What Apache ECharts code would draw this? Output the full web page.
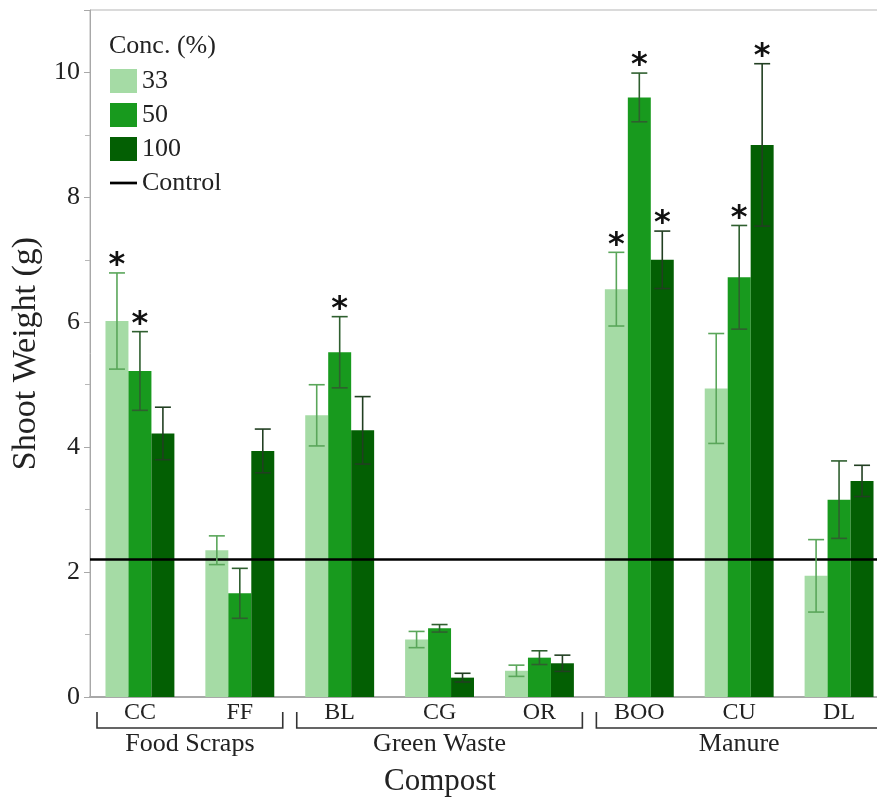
<!DOCTYPE html>
<html>
<head>
<meta charset="utf-8">
<script src="https://cdn.jsdelivr.net/npm/echarts@6/dist/echarts.min.js"></script>
<style>
  html, body { margin: 0; padding: 0; background: #fff; }
  #chart { width: 877px; height: 803px; }
</style>
</head>
<body>
<div id="chart"></div>
<script>
// Compost types on the x axis, grouped by source
const categories = ['CC', 'FF', 'BL', 'CG', 'OR', 'BOO', 'CU', 'DL'];
const groupNames = ['Food Scraps', 'Green Waste', 'Manure'];
const groupSpans = [[0, 1], [2, 4], [5, 7]];

// Concentration levels (%)
const concNames = ['33', '50', '100'];

// Mean shoot weight (g) per concentration
const conc33 = [6.02, 2.35, 4.51, 0.92, 0.42, 6.53, 4.94, 1.94];
const conc50 = [5.22, 1.66, 5.52, 1.10, 0.63, 9.60, 6.72, 3.16];
const conc100 = [4.22, 3.94, 4.27, 0.31, 0.54, 7.00, 8.84, 3.46];

// Error bar half-lengths (g)
const err33 = [0.77, 0.23, 0.49, 0.13, 0.09, 0.59, 0.88, 0.58];
const err50 = [0.63, 0.40, 0.57, 0.06, 0.11, 0.39, 0.83, 0.62];
const err100 = [0.42, 0.35, 0.54, 0.07, 0.13, 0.46, 1.30, 0.25];

// Significance flags (1 = marked with an asterisk)
const sig33 = [1, 0, 0, 0, 0, 1, 0, 0];
const sig50 = [1, 0, 1, 0, 0, 1, 1, 0];
const sig100 = [0, 0, 0, 0, 0, 1, 1, 0];

// Control shoot weight (g)
const controlValue = 2.21;

// Y axis ticks
const yMin = 0, yMax = 11, yInterval = 2;

const barColors = ['#a5dba5', '#189a1e', '#035f03'];
const errColors = ['#5aa65a', '#2f5f2f', '#223f22'];
const FONT = '"Liberation Serif", "Times New Roman", serif';
const CAT_GAP = 0.31;

const means = [conc33, conc50, conc100];
const errs = [err33, err50, err100];
const sigs = [sig33, sig50, sig100];

const chart = echarts.init(document.getElementById('chart'));

function errorSeries(k) {
  return {
    type: 'custom',
    name: concNames[k] + ' err',
    z: 5,
    silent: true,
    data: categories.map((c, i) => [i, means[k][i], errs[k][i], sigs[k][i]]),
    renderItem: function (params, api) {
      const idx = api.value(0);
      const v = api.value(1);
      const e = api.value(2);
      const s = api.value(3);
      const band = api.size([1, 0])[0];
      const barW = band * (1 - CAT_GAP) / 3;
      const cx = api.coord([idx, 0])[0] + (k - 1) * barW;
      const yTop = api.coord([idx, v + e])[1];
      const yBot = api.coord([idx, v - e])[1];
      const cap = 8;
      const style = { stroke: errColors[k], lineWidth: 1.6 };
      const children = [
        { type: 'line', shape: { x1: cx, y1: yTop, x2: cx, y2: yBot }, style },
        { type: 'line', shape: { x1: cx - cap, y1: yTop, x2: cx + cap, y2: yTop }, style },
        { type: 'line', shape: { x1: cx - cap, y1: yBot, x2: cx + cap, y2: yBot }, style }
      ];
      if (s) {
        children.push({
          type: 'text',
          style: {
            text: '*', x: cx, y: yTop + 9,
            align: 'center', verticalAlign: 'bottom',
            font: 'bold 32px "DejaVu Sans", sans-serif', fill: '#111'
          }
        });
      }
      return { type: 'group', children };
    }
  };
}

const barSeries = concNames.map((n, k) => ({
  type: 'bar',
  name: n,
  data: means[k],
  barGap: '0%',
  barCategoryGap: (CAT_GAP * 100) + '%',
  itemStyle: { color: barColors[k] },
  z: 2
}));

chart.setOption({
  animation: false,
  backgroundColor: '#fff',
  title: {
    text: 'Conc. (%)',
    left: 104, top: 28,
    textStyle: { fontFamily: FONT, fontSize: 26, fontWeight: 'normal', color: '#222' }
  },
  legend: {
    left: 105, top: 63,
    orient: 'vertical',
    itemWidth: 27, itemHeight: 24, itemGap: 8,
    textStyle: { fontFamily: FONT, fontSize: 26, color: '#222' },
    selectedMode: false,
    data: [
      { name: '33', icon: 'rect' },
      { name: '50', icon: 'rect' },
      { name: '100', icon: 'rect' },
      { name: 'Control', icon: 'path://M0,0H26V2.6H0Z' }
    ]
  },
  grid: {
    left: 90, top: 10, width: 799, bottom: 106,
    outerBoundsMode: 'none', containLabel: false,
    show: true, borderColor: '#b5b5b5', borderWidth: 1
  },
  xAxis: {
    type: 'category',
    data: categories,
    axisLine: { lineStyle: { color: '#a8a8a8', width: 2 } },
    axisTick: { show: false },
    axisLabel: { fontFamily: FONT, fontSize: 24, color: '#222', margin: 4 }
  },
  yAxis: {
    type: 'value',
    min: yMin, max: yMax, interval: yInterval,
    name: 'Shoot Weight (g)',
    nameLocation: 'middle',
    nameGap: 46,
    nameTextStyle: { fontFamily: FONT, fontSize: 34, color: '#222' },
    axisLine: { show: true, lineStyle: { color: '#a8a8a8' } },
    axisTick: { show: true, length: 6, lineStyle: { color: '#a8a8a8' } },
    minorTick: { show: true, splitNumber: 2, length: 5, lineStyle: { color: '#b8b8b8' } },
    splitLine: { show: false },
    axisLabel: { fontFamily: FONT, fontSize: 26, color: '#222', margin: 10, showMaxLabel: false }
  },
  series: [
    ...barSeries,
    errorSeries(0), errorSeries(1), errorSeries(2),
    {
      type: 'line',
      name: 'Control',
      data: [],
      itemStyle: { color: '#000' },
      lineStyle: { color: '#000' },
      markLine: {
        silent: true,
        symbol: 'none',
        label: { show: false },
        lineStyle: { color: '#000', width: 2.6, type: 'solid' },
        data: [{ yAxis: controlValue }]
      },
      z: 6
    }
  ]
});

// Group brackets and labels beneath the category labels
const gridRect = chart.getModel().getComponent('grid').coordinateSystem.getRect();
const bandW = gridRect.width / categories.length;
const axisY = gridRect.y + gridRect.height;
const graphics = [];
groupSpans.forEach((span, g) => {
  const x0 = chart.convertToPixel({ xAxisIndex: 0 }, span[0]) - bandW / 2 + 7;
  const x1 = chart.convertToPixel({ xAxisIndex: 0 }, span[1]) + bandW / 2 - 7;
  const yTopB = axisY + 15, yLine = axisY + 31;
  graphics.push({
    type: 'polyline',
    shape: { points: [[x0, yTopB], [x0, yLine], [x1, yLine], [x1, yTopB]] },
    style: { stroke: '#333', lineWidth: 1.6, fill: null }
  });
  graphics.push({
    type: 'text',
    style: {
      text: groupNames[g], x: (x0 + x1) / 2, y: yLine + 16,
      align: 'center', verticalAlign: 'middle',
      font: '26px ' + FONT, fill: '#222'
    }
  });
});
graphics.push({
  type: 'text',
  style: {
    text: 'Compost', x: 440, y: axisY + 85,
    align: 'center', verticalAlign: 'middle',
    font: '31px ' + FONT, fill: '#222'
  }
});
chart.setOption({ graphic: graphics });
</script>
</body>
</html>
